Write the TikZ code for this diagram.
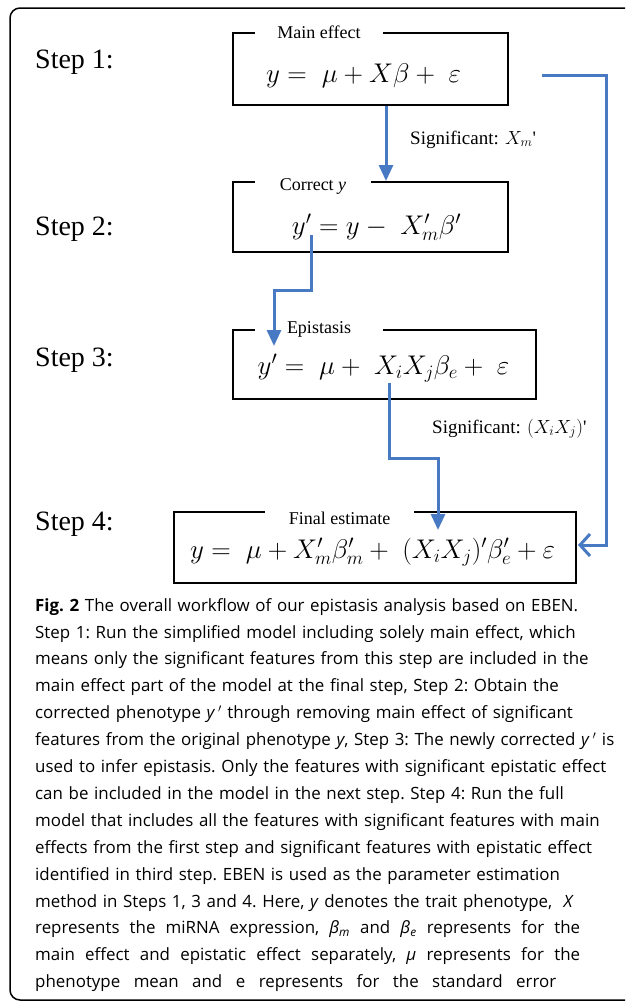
\RequirePackage{fix-cm}
\documentclass[tikz,border=0pt]{standalone}
\usepackage{fontspec}
\setmainfont{Liberation Serif}
\newfontfamily\capfont{Open Sans}
\usetikzlibrary{arrows.meta}
\definecolor{flowblue}{RGB}{72,122,196}
\newcommand{\justline}[2]{\leavevmode\hbox to #1{\spaceskip=\fontdimen2\font plus 1fil\relax #2}}

\begin{document}
\begin{tikzpicture}[
  x=1pt, y=-1pt,
  steplbl/.style={anchor=base west, inner sep=0pt, font=\fontsize{28}{30}\selectfont},
  mbox/.style={draw=black, line width=2pt},
  ttl/.style={anchor=base, fill=white, inner xsep=0pt, inner ysep=2pt, font=\fontsize{18}{20}\selectfont},
  eqn/.style={anchor=base, inner sep=0pt, font=\fontsize{27}{29}\selectfont},
  sig/.style={anchor=base west, inner sep=0pt, font=\fontsize{19}{21}\selectfont},
  capnode/.style={anchor=north west, inner sep=0pt, text width=600pt, align=left,
    font=\capfont\fontsize{16.9}{26.9}\selectfont\frenchspacing},
  arw/.style={-{Triangle[length=16pt, width=14pt]}, line width=3pt, draw=flowblue},
  backarw/.style={-{Straight Barb[length=10pt, width=22pt]}, line width=3pt, draw=flowblue}
  ]

\useasboundingbox (0,0) rectangle (625,1002);
\clip (0,0) rectangle (625,1002);
\draw [line width=1.5pt, rounded corners=10pt] (10,8) rectangle (660,1000);

% steps
\node [steplbl] (step1) at (35,68) {Step 1:};
\node [steplbl] (step2) at (35,235) {Step 2:};
\node [steplbl] (step3) at (35,366) {Step 3:};
\node [steplbl] (step4) at (35,530) {Step 4:};

% boxes
\node [mbox, minimum width=275pt, minimum height=72pt] (box1) at (370.5,69) {};
\node [mbox, minimum width=275pt, minimum height=70pt] (box2) at (370.5,217) {};
\node [mbox, minimum width=303pt, minimum height=69pt] (box3) at (384.5,364.5) {};
\node [mbox, minimum width=402pt, minimum height=71pt] (box4) at (375,547.5) {};

\node [ttl, minimum width=128pt] (ttl1) at (319,38) {Main effect};
\node [ttl, minimum width=116pt] (ttl2) at (313,190) {Correct \textit{y}};
\node [ttl, minimum width=128pt] (ttl3) at (319,333) {Epistasis};
\node [ttl, minimum width=149pt] (ttl4) at (339.5,524) {Final estimate};

\node [eqn] (eq1) at (363.5,82) {$y =\; \mu + X\beta +\; \varepsilon$};
\node [eqn] (eq2) at (376.5,234) {$y' = y -\; X'_m\beta'$};
\node [eqn] (eq3) at (383.5,374) {$y' =\; \mu +\; X_iX_j\beta_e +\; \varepsilon$};
\node [eqn] (eq4) at (372.5,558) {$y =\; \mu + X'_m\beta'_m +\; (X_iX_j)'\beta'_e + \varepsilon$};

% connectors
\coordinate (k1) at (386,0);
\coordinate (c2s) at (311,235);
\coordinate (c2e) at (274,346);
\coordinate (c3s) at (389,383);
\coordinate (c3e) at (438,530);
\coordinate (c4s) at (542,75);
\coordinate (c4e) at (578,545);

\draw [arw] (box1.south -| k1) -- (box2.north -| k1);
\draw [arw] (c2s) -- ++(0,55) -| (c2e);
\draw [arw] (c3s) -- ++(0,75) -| (c3e);
\draw [backarw] (c4s) -- ++(64,0) |- (c4e);

\node [sig] (sig1) at (410,144) {Significant: $X_m$\textquotesingle};
\node [sig] (sig2) at (432,433) {Significant: $(X_iX_j)$\textquotesingle};

% caption
\node [capnode] (cap) at (35,598) {%
\textbf{Fig. 2} The overall workflow of our epistasis analysis based on EBEN.\\
Step 1: Run the simplified model including solely main effect, which\\
means only the significant features from this step are included in the\\
main effect part of the model at the final step, Step 2: Obtain the\\
corrected phenotype \textit{y}\,$^{\prime}$ through removing main effect of significant\\
features from the original phenotype \textit{y}, Step 3: The newly corrected \textit{y}\,$^{\prime}$ is\\
used to infer epistasis. Only the features with significant epistatic effect\\
can be included in the model in the next step. Step 4: Run the full\\
model that includes all the features with significant features with main\\
effects from the first step and significant features with epistatic effect\\
identified in third step. EBEN is used as the parameter estimation\\
method in Steps 1, 3 and 4. Here, \textit{y} denotes the trait phenotype, \ \textit{X}\\
\justline{545pt}{represents the miRNA expression, \textit{β}\textsubscript{\textit{m}} and \textit{β}\textsubscript{\textit{e}} represents for the}\\
\justline{545pt}{main effect and epistatic effect separately, \textit{μ} represents for the}\\
\justline{521pt}{phenotype mean and e represents for the standard error}};

\end{tikzpicture}
\end{document}
